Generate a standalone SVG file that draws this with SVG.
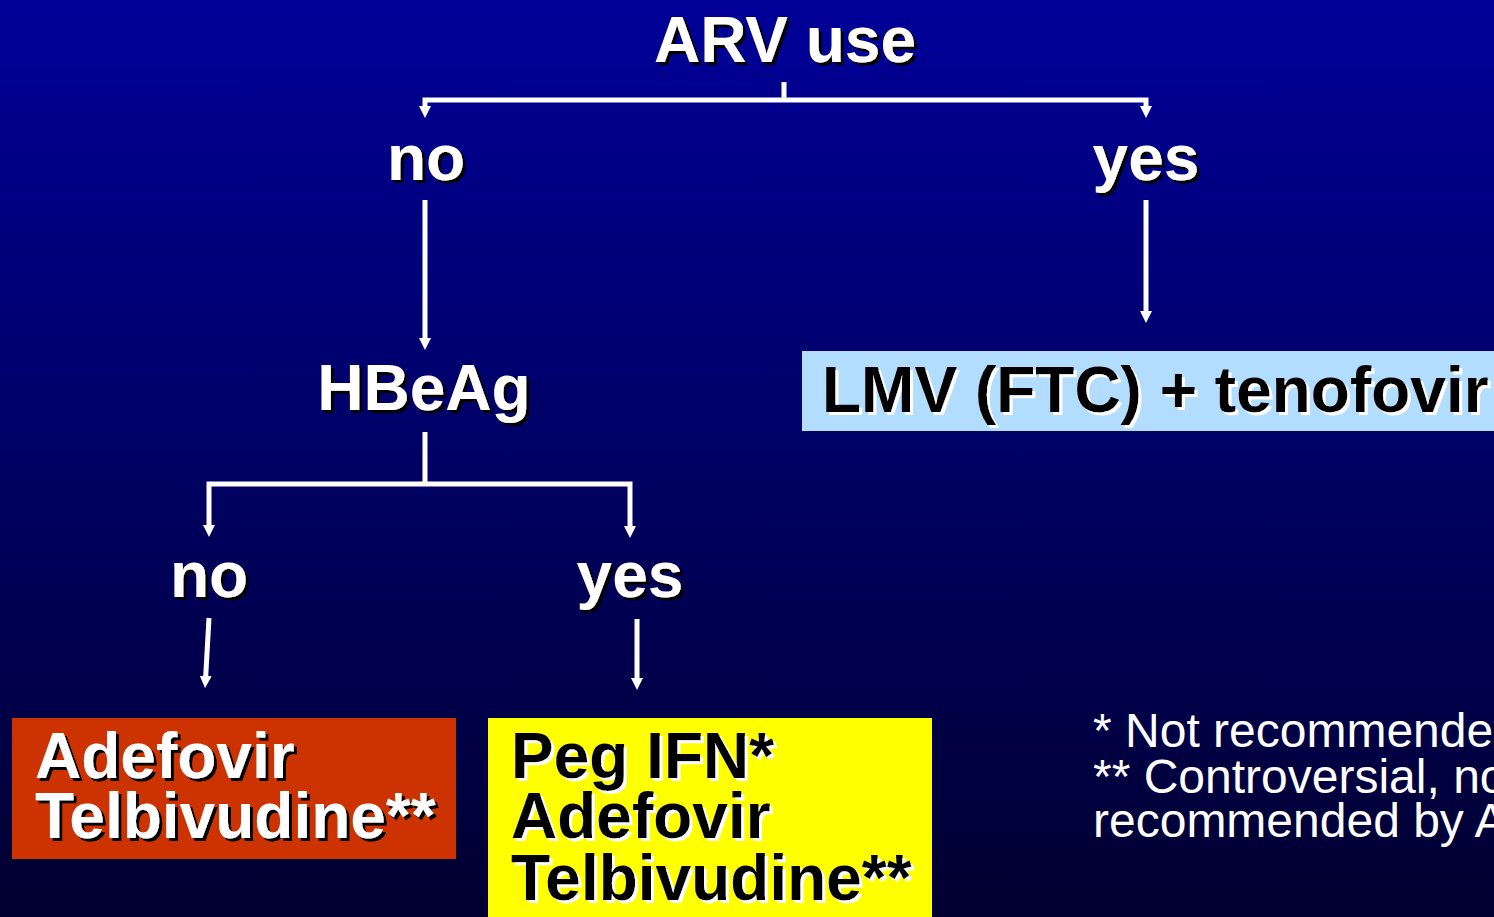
<svg xmlns="http://www.w3.org/2000/svg" width="1494" height="917" viewBox="0 0 1494 917">
  <defs>
    <linearGradient id="bg" x1="0" y1="0" x2="0" y2="1">
      <stop offset="0" stop-color="#000098"/>
      <stop offset="1" stop-color="#000030"/>
    </linearGradient>
    <!-- dark drop shadow behind white lettering -->
    <filter id="shadowDark" x="-5%" y="-20%" width="115%" height="150%">
      <feFlood flood-color="#000000" result="c"/>
      <feComposite in="c" in2="SourceAlpha" operator="in" result="s"/>
      <feOffset in="s" dx="3" dy="3" result="o"/>
      <feMerge><feMergeNode in="o"/><feMergeNode in="SourceGraphic"/></feMerge>
    </filter>
    <!-- light drop shadow behind black lettering -->
    <filter id="shadowLight" x="-5%" y="-20%" width="115%" height="150%">
      <feFlood flood-color="#ffffff" result="c"/>
      <feComposite in="c" in2="SourceAlpha" operator="in" result="s"/>
      <feOffset in="s" dx="3" dy="3" result="o"/>
      <feMerge><feMergeNode in="o"/><feMergeNode in="SourceGraphic"/></feMerge>
    </filter>
    <marker id="arrow" viewBox="0 0 12 12" markerUnits="userSpaceOnUse" markerWidth="12" markerHeight="12" refX="2" refY="6" orient="auto-start-reverse">
      <path d="M0,0 L12,6 L0,12 z" fill="#ffffff"/>
    </marker>
    <style>
      .lbl { font-family: "Liberation Sans", Arial, Helvetica, sans-serif; font-weight: bold; font-size: 64px; }
      .white { fill: #ffffff; filter: url(#shadowDark); }
      .black { fill: #000000; filter: url(#shadowLight); }
      .mid { text-anchor: middle; }
      .note { font-family: "Liberation Sans", Arial, Helvetica, sans-serif; font-size: 48px; fill: #ffffff; }
      .conn { fill: none; stroke: #ffffff; stroke-width: 5; stroke-linejoin: miter; }
    </style>
  </defs>

  <rect x="0" y="0" width="1494" height="917" fill="url(#bg)"/>

  <g id="connectors">
    <path class="conn" d="M784,82 V100"/>
    <path class="conn" d="M425,108 V100 H1146 V108" marker-start="url(#arrow)" marker-end="url(#arrow)"/>
    <path class="conn" d="M425,200 V340" marker-end="url(#arrow)"/>
    <path class="conn" d="M1146,200 V313" marker-end="url(#arrow)"/>
    <path class="conn" d="M425,432 V484"/>
    <path class="conn" d="M209,527 V484 H630 V528" marker-start="url(#arrow)" marker-end="url(#arrow)"/>
    <path class="conn" d="M209,618 L205.6,678" marker-end="url(#arrow)"/>
    <path class="conn" d="M637,619 V680" marker-end="url(#arrow)"/>
  </g>

  <g id="arv-use">
    <text class="lbl white mid" x="785" y="62">ARV use</text>
  </g>

  <g id="arv-no">
    <text class="lbl white mid" x="426" y="180">no</text>
  </g>

  <g id="arv-yes">
    <text class="lbl white mid" x="1146" y="180">yes</text>
  </g>

  <g id="hbeag">
    <text class="lbl white mid" x="424" y="410">HBeAg</text>
  </g>

  <g id="lmv-tenofovir">
    <rect x="802" y="351" width="700" height="80" fill="#b3ddff"/>
    <text class="lbl black" x="822" y="412">LMV (FTC) + tenofovir</text>
  </g>

  <g id="hbeag-no">
    <text class="lbl white mid" x="209" y="597">no</text>
  </g>

  <g id="hbeag-yes">
    <text class="lbl white mid" x="630" y="597">yes</text>
  </g>

  <g id="therapy-negative">
    <rect x="12" y="718" width="444" height="141" fill="#cc3300"/>
    <text class="lbl white" x="35" y="778">Adefovir</text>
    <text class="lbl white" x="35" y="838">Telbivudine**</text>
  </g>

  <g id="therapy-positive">
    <rect x="488" y="718" width="444" height="210" fill="#ffff00"/>
    <text class="lbl black" x="511" y="778">Peg IFN*</text>
    <text class="lbl black" x="511" y="838">Adefovir</text>
    <text class="lbl black" x="511" y="900">Telbivudine**</text>
  </g>

  <g id="footnotes">
    <text class="note" x="1093" y="747">* Not recommended</text>
    <text class="note" x="1093" y="793">** Controversial, no</text>
    <text class="note" x="1093" y="837">recommended by A</text>
  </g>
</svg>
